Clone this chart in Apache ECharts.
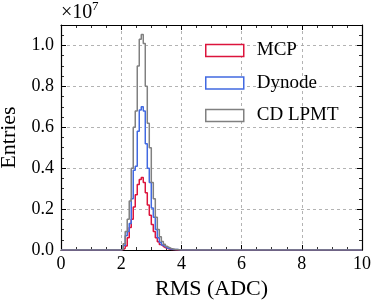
<!DOCTYPE html>
<html><head><meta charset="utf-8">
<script src="https://cdn.jsdelivr.net/npm/echarts@6/dist/echarts.min.js"></script>
<style>html,body{margin:0;padding:0;background:#fff}#c{width:378px;height:305px}</style>
</head><body><div id="c"></div>
<script>
// RMS bin left edges (ADC)
const binEdges = [2.0000,2.0667,2.1333,2.2000,2.2667,2.3333,2.4000,2.4667,2.5333,2.6000,
  2.6667,2.7333,2.8000,2.8667,2.9333,3.0000,3.0667,3.1333,3.2000,3.2667,
  3.3333,3.4000,3.4667,3.5333,3.6000,3.6667,3.7333,3.8000,3.8667,3.9333];
const lastEdge = 4.0;
// entries in units of 1e7
const mcp = [0.002,0.008,0.02,0.06,0.11,0.15,0.21,0.27,0.32,0.345,
  0.355,0.33,0.28,0.22,0.17,0.125,0.09,0.06,0.04,0.027,
  0.018,0.012,0.008,0.005,0.003,0.002,0.001,0,0,0];
const dynode = [0.003,0.022,0.07,0.09,0.13,0.25,0.39,0.41,0.58,0.685,
  0.70,0.68,0.52,0.40,0.33,0.205,0.16,0.10,0.06,0.038,
  0.024,0.016,0.01,0.007,0.005,0.003,0.002,0.002,0.001,0];
const cdLpmt = [0.005,0.03,0.09,0.15,0.24,0.40,0.60,0.68,0.90,1.03,
  1.054,1.01,0.80,0.62,0.50,0.33,0.25,0.16,0.10,0.065,
  0.042,0.028,0.018,0.012,0.008,0.005,0.003,0.002,0.001,0];
const seriesNames = ['MCP','Dynode','CD LPMT'];
const colors = ['#dc143c','#4169e1','#808080'];
const xTicks = [0,2,4,6,8,10];
const yTicks = [0.0,0.2,0.4,0.6,0.8,1.0];

function hist(vals){
  const d=[[0,0]];
  binEdges.forEach((e,i)=>d.push([e,vals[i]]));
  d.push([lastEdge,0]); d.push([10,0]);
  return d;
}
const FONT='Liberation Serif';
const chart = echarts.init(document.getElementById('c'));
const gridLine=()=>({show:true,lineStyle:{color:'#a0a0a0',type:[3,3],width:0.8}});
const axLine=()=>({show:true,onZero:false,lineStyle:{color:'#000',width:1.2}});
const tick=()=>({show:true,inside:true,length:5,lineStyle:{color:'#000',width:1}});
const minor=()=>({show:true,splitNumber:4,length:3,lineStyle:{color:'#000',width:0.8}});
chart.setOption({
  animation:false,
  title:[
    {text:'×10',left:61,top:3,padding:0,textStyle:{fontFamily:FONT,fontSize:20,fontWeight:'normal',color:'#000'}},
    {text:'7',left:92,top:0,padding:0,textStyle:{fontFamily:FONT,fontSize:13,fontWeight:'normal',color:'#000'}}],
  grid:{left:61,right:16,top:25,bottom:55,containLabel:false,outerBoundsMode:'none'},
  legend:{orient:'vertical',left:205,top:41,padding:0,itemWidth:38,itemHeight:12,itemGap:13.5,
    textStyle:{fontFamily:FONT,fontSize:19,color:'#000',padding:[0,0,0,8]},
    data:seriesNames.map((n,i)=>({name:n,icon:'rect',itemStyle:{color:'#fff',borderColor:colors[i],borderWidth:1.5}}))},
  xAxis:[{type:'value',min:0,max:10,interval:2,position:'bottom',
    axisLine:axLine(),axisTick:tick(),minorTick:minor(),
    axisLabel:{fontFamily:FONT,fontSize:18,color:'#000',margin:5,formatter:v=>xTicks.includes(v)?String(v):''},
    splitLine:gridLine(),
    name:'RMS (ADC)',nameLocation:'middle',nameGap:27,nameTextStyle:{fontFamily:FONT,fontSize:22,color:'#000'}},
   {type:'value',min:0,max:10,interval:2,position:'top',
    axisLine:axLine(),axisTick:tick(),minorTick:minor(),
    axisLabel:{show:false},splitLine:{show:false}}],
  yAxis:[{type:'value',min:0,max:1.1,interval:0.2,position:'left',
    axisLine:axLine(),axisTick:tick(),minorTick:minor(),
    axisLabel:{fontFamily:FONT,fontSize:18,color:'#000',margin:7,showMaxLabel:false,
      formatter:v=>{const t=yTicks.find(y=>Math.abs(y-v)<1e-6);return t===undefined?'':t.toFixed(1);}},
    splitLine:gridLine(),
    name:'Entries',nameLocation:'middle',nameGap:35,nameRotate:90,nameTextStyle:{fontFamily:FONT,fontSize:22,color:'#000'}},
   {type:'value',min:0,max:1.1,interval:0.2,position:'right',
    axisLine:axLine(),axisTick:tick(),minorTick:minor(),
    axisLabel:{show:false},splitLine:{show:false}}],
  series:[mcp,dynode,cdLpmt].map((v,i)=>({name:seriesNames[i],type:'line',step:'end',
    data:hist(v),symbol:'none',lineStyle:{color:colors[i],width:1.5},itemStyle:{color:colors[i]},z:2+i}))
});
</script></body></html>
